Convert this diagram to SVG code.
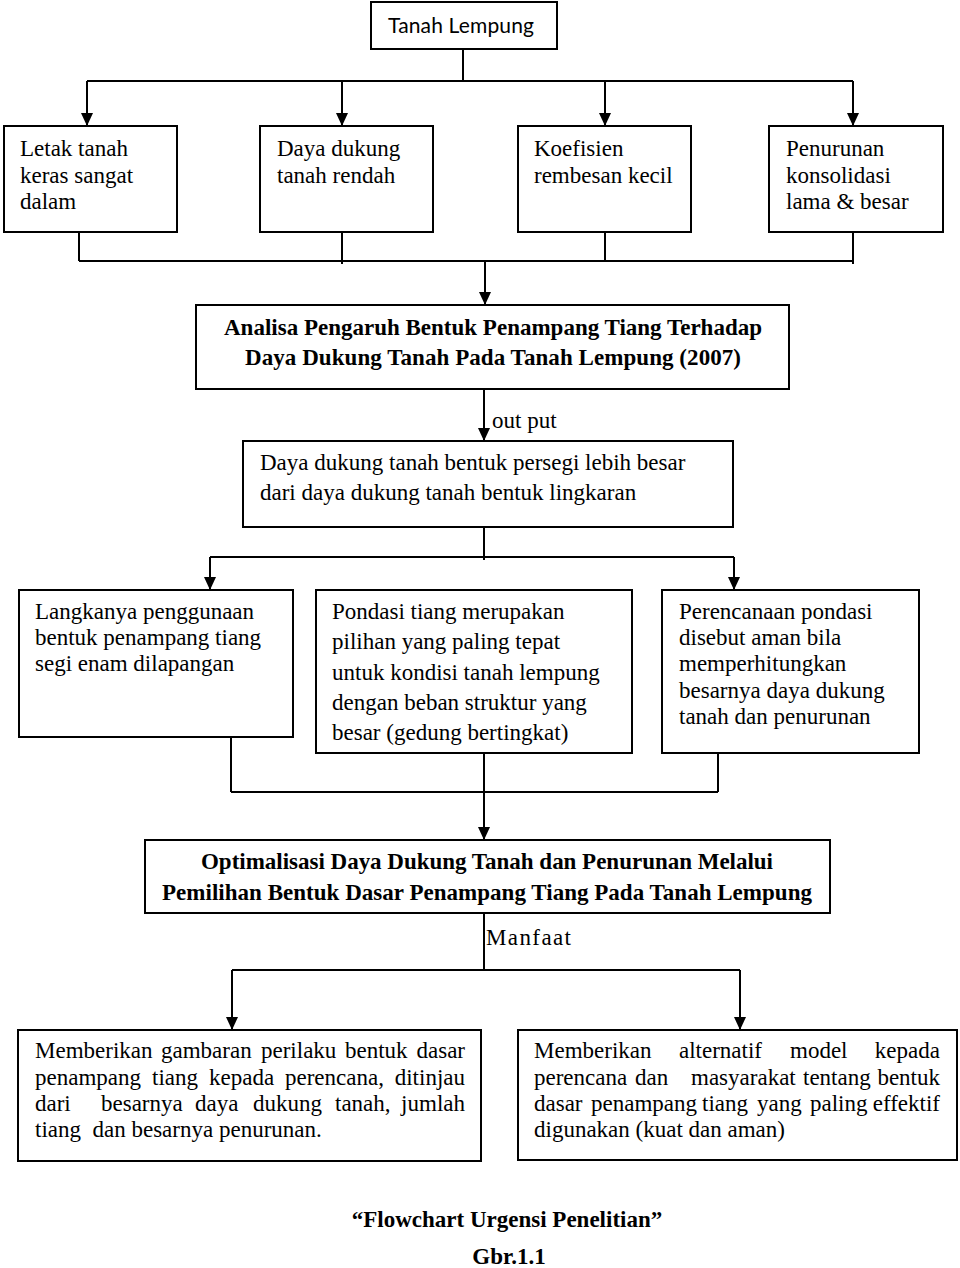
<svg xmlns="http://www.w3.org/2000/svg" width="960" height="1268" viewBox="0 0 960 1268">
<style>
.box{fill:#fff;stroke:#000;stroke-width:2}
.t{font-family:"Liberation Serif","Times New Roman",serif;font-size:23px;fill:#000}
.b{font-family:"Liberation Serif","Times New Roman",serif;font-size:23px;font-weight:bold;fill:#000}
.s{font-family:Lato,"Liberation Sans",sans-serif;font-size:21px;fill:#000}
.c{fill:none;stroke:#000;stroke-width:2}
</style>
<defs>
<marker id="ah" markerUnits="userSpaceOnUse" markerWidth="13" markerHeight="12" refX="13" refY="6" orient="auto" viewBox="0 0 13 12">
<path d="M0,0 L13,6 L0,12 z" fill="#000"/>
</marker>
</defs>
<rect width="960" height="1268" fill="#fff"/>

<g id="connectors">
<path class="c" d="M463,49 V81 M87,81 H853"/>
<path class="c" d="M87,81 V126" marker-end="url(#ah)"/>
<path class="c" d="M342,81 V126" marker-end="url(#ah)"/>
<path class="c" d="M605,81 V126" marker-end="url(#ah)"/>
<path class="c" d="M853,81 V126" marker-end="url(#ah)"/>
<path class="c" d="M79,230 V261 M342,232 V264 M605,230 V261 M853,232 V264 M79,261 H853"/>
<path class="c" d="M485,261 V305" marker-end="url(#ah)"/>
<path class="c" d="M484,389 V441" marker-end="url(#ah)"/>
<path class="c" d="M484,527 V560 M210,557 H734"/>
<path class="c" d="M210,557 V590" marker-end="url(#ah)"/>
<path class="c" d="M734,557 V590" marker-end="url(#ah)"/>
<path class="c" d="M231,737 V792 M718,753 V792 M231,792 H718"/>
<path class="c" d="M484,753 V840" marker-end="url(#ah)"/>
<path class="c" d="M484,913 V970 M232,970 H740"/>
<path class="c" d="M232,970 V1030" marker-end="url(#ah)"/>
<path class="c" d="M740,970 V1030" marker-end="url(#ah)"/>
<text class="t" x="492" y="428">out put</text>
<text class="t" x="486" y="945" textLength="85">Manfaat</text>
</g>

<g id="n-tanah">
<rect class="box" x="371" y="2" width="186" height="47"/>
<text class="s" x="388" y="33" textLength="146">Tanah Lempung</text>
</g>

<g id="n-letak">
<rect class="box" x="4" y="126" width="173" height="106"/>
<text class="t" x="20" y="156">Letak tanah</text>
<text class="t" x="20" y="183">keras sangat</text>
<text class="t" x="20" y="209">dalam</text>
</g>

<g id="n-daya-rendah">
<rect class="box" x="260" y="126" width="173" height="106"/>
<text class="t" x="277" y="156">Daya dukung</text>
<text class="t" x="277" y="183">tanah rendah</text>
</g>

<g id="n-koefisien">
<rect class="box" x="518" y="126" width="173" height="106"/>
<text class="t" x="534" y="156">Koefisien</text>
<text class="t" x="534" y="183">rembesan kecil</text>
</g>

<g id="n-penurunan">
<rect class="box" x="769" y="126" width="174" height="106"/>
<text class="t" x="786" y="156">Penurunan</text>
<text class="t" x="786" y="183">konsolidasi</text>
<text class="t" x="786" y="209">lama &amp; besar</text>
</g>

<g id="n-analisa">
<rect class="box" x="196" y="305" width="593" height="84"/>
<text class="b" x="224" y="335" textLength="538">Analisa Pengaruh Bentuk Penampang Tiang Terhadap</text>
<text class="b" x="245" y="365" textLength="496">Daya Dukung Tanah Pada Tanah Lempung (2007)</text>
</g>

<g id="n-hasil">
<rect class="box" x="243" y="441" width="490" height="86"/>
<text class="t" x="260" y="470">Daya dukung tanah bentuk persegi lebih besar</text>
<text class="t" x="260" y="500">dari daya dukung tanah bentuk lingkaran</text>
</g>

<g id="n-langka">
<rect class="box" x="19" y="590" width="274" height="147"/>
<text class="t" x="35" y="619">Langkanya penggunaan</text>
<text class="t" x="35" y="645">bentuk penampang tiang</text>
<text class="t" x="35" y="671">segi enam dilapangan</text>
</g>

<g id="n-pondasi">
<rect class="box" x="316" y="590" width="316" height="163"/>
<text class="t" x="332" y="619">Pondasi tiang merupakan</text>
<text class="t" x="332" y="649">pilihan yang paling tepat</text>
<text class="t" x="332" y="680">untuk kondisi tanah lempung</text>
<text class="t" x="332" y="710">dengan beban struktur yang</text>
<text class="t" x="332" y="740">besar (gedung bertingkat)</text>
</g>

<g id="n-perencanaan">
<rect class="box" x="662" y="590" width="257" height="163"/>
<text class="t" x="679" y="619">Perencanaan pondasi</text>
<text class="t" x="679" y="645">disebut aman bila</text>
<text class="t" x="679" y="671">memperhitungkan</text>
<text class="t" x="679" y="698">besarnya daya dukung</text>
<text class="t" x="679" y="724">tanah dan penurunan</text>
</g>

<g id="n-optimalisasi">
<rect class="box" x="145" y="840" width="685" height="73"/>
<text class="b" x="201" y="869" textLength="572">Optimalisasi Daya Dukung Tanah dan Penurunan Melalui</text>
<text class="b" x="162" y="900" textLength="650">Pemilihan Bentuk Dasar Penampang Tiang Pada Tanah Lempung</text>
</g>

<g id="n-manfaat-1">
<rect class="box" x="18" y="1030" width="463" height="131"/>
<text class="t" y="1058"><tspan x="35">Memberikan</tspan><tspan x="161">gambaran</tspan><tspan x="261">perilaku</tspan><tspan x="345">bentuk</tspan></text>
<text class="t" x="465" y="1058" text-anchor="end">dasar</text>
<text class="t" y="1085"><tspan x="35">penampang</tspan><tspan x="152">tiang</tspan><tspan x="209">kepada</tspan><tspan x="285">perencana,</tspan></text>
<text class="t" x="465" y="1085" text-anchor="end">ditinjau</text>
<text class="t" y="1111"><tspan x="35">dari</tspan><tspan x="101">besarnya</tspan><tspan x="195">daya</tspan><tspan x="253">dukung</tspan><tspan x="335">tanah,</tspan></text>
<text class="t" x="465" y="1111" text-anchor="end">jumlah</text>
<text class="t" x="35" y="1137" xml:space="preserve">tiang  dan besarnya penurunan.</text>
</g>

<g id="n-manfaat-2">
<rect class="box" x="518" y="1030" width="439" height="130"/>
<text class="t" y="1058"><tspan x="534">Memberikan</tspan><tspan x="679">alternatif</tspan><tspan x="790">model</tspan></text>
<text class="t" x="940" y="1058" text-anchor="end">kepada</text>
<text class="t" y="1085"><tspan x="534">perencana</tspan><tspan x="635">dan</tspan><tspan x="691">masyarakat</tspan><tspan x="803">tentang</tspan></text>
<text class="t" x="940" y="1085" text-anchor="end">bentuk</text>
<text class="t" y="1111"><tspan x="534">dasar</tspan><tspan x="591">penampang</tspan><tspan x="702">tiang</tspan><tspan x="757">yang</tspan><tspan x="810">paling</tspan></text>
<text class="t" x="940" y="1111" text-anchor="end">effektif</text>
<text class="t" x="534" y="1137">digunakan (kuat dan aman)</text>
</g>

<g id="caption">
<text class="b" x="507" y="1227" text-anchor="middle">“Flowchart Urgensi Penelitian”</text>
<text class="b" x="509" y="1264" text-anchor="middle">Gbr.1.1</text>
</g>
</svg>
